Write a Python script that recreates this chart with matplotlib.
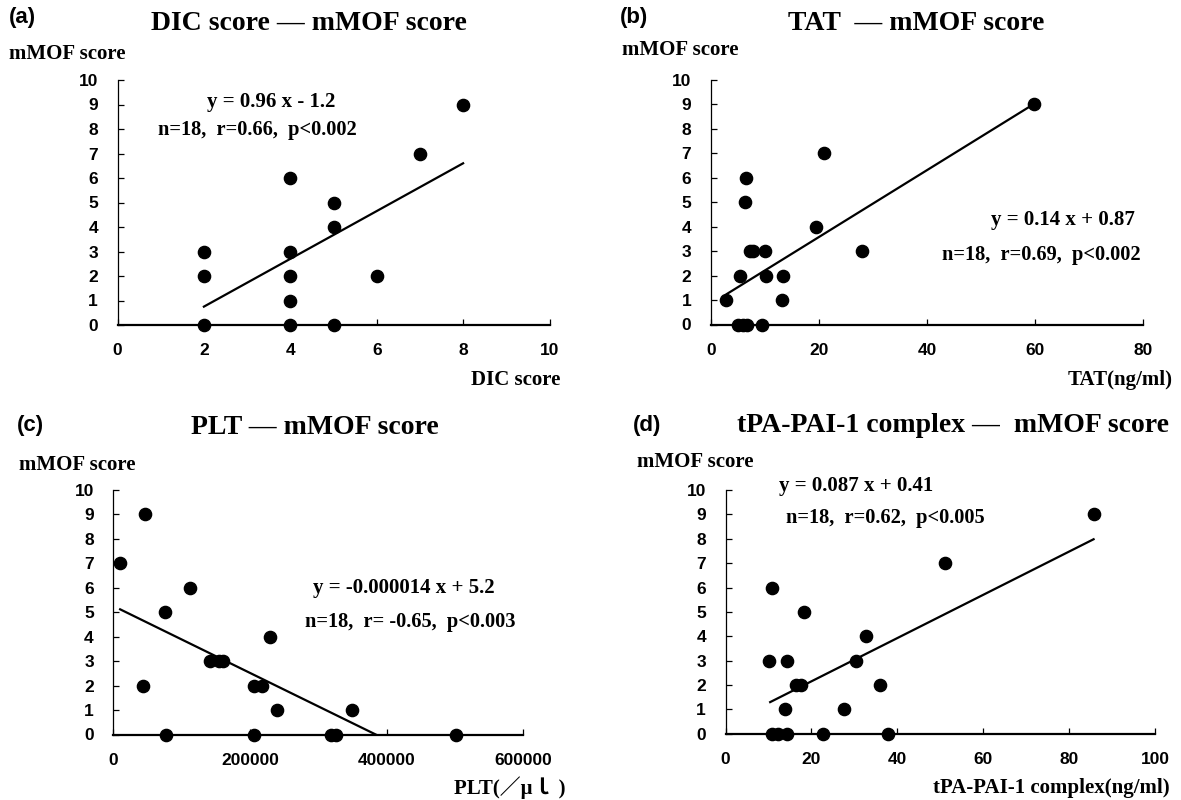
import matplotlib
matplotlib.use("Agg")
import matplotlib.pyplot as plt
from matplotlib import font_manager

# ---------------- data ----------------
# (a) DIC score vs mMOF score
dic_x = [2, 2, 2, 4, 4, 4, 4, 4, 5, 5, 5, 6, 7, 8]
dic_y = [0, 2, 3, 0, 1, 2, 3, 6, 0, 4, 5, 2, 7, 9]
dic_fit_x = [2, 8]
dic_fit_y = [0.75, 6.6]

# (b) TAT vs mMOF score
tat_x = [2.9, 5.4, 6.3, 6.5, 7.3, 7.8, 10.1, 10.2, 13.4, 13.2, 19.4, 20.9, 28.0, 59.8,
         5.0, 5.9, 6.8, 9.5]
tat_y = [1, 2, 5, 6, 3, 3, 3, 2, 2, 1, 4, 7, 3, 9,
         0, 0, 0, 0]
tat_fit_x = [3, 60]
tat_fit_y = [1.25, 9.05]

# (c) PLT vs mMOF score
plt_x = [10000, 45700, 42900, 75400, 77000, 111700, 141500, 154000, 160700, 205300,
         217400, 206400, 229000, 239400, 319300, 326400, 349500, 500900]
plt_y = [7, 9, 2, 5, 0, 6, 3, 3, 3, 2,
         2, 0, 4, 1, 0, 0, 1, 0]
plt_fit_x = [10000, 384000]
plt_fit_y = [5.12, 0.0]

# (d) tPA-PAI-1 complex vs mMOF score
tpa_x = [10.8, 10.1, 14.3, 18.2, 16.4, 17.5, 13.8, 27.6, 30.5, 32.6, 35.9, 51.0, 85.7,
         10.8, 12.2, 14.3, 22.8, 37.9]
tpa_y = [6, 3, 3, 5, 2, 2, 1, 1, 3, 4, 2, 7, 9,
         0, 0, 0, 0, 0]
tpa_fit_x = [10.4, 85.7]
tpa_fit_y = [1.3, 7.98]

y_ticks = list(range(0, 11))
dic_xticks = [0, 2, 4, 6, 8, 10]
tat_xticks = [0, 20, 40, 60, 80]
plt_xticks = [0, 200000, 400000, 600000]
tpa_xticks = [0, 20, 40, 60, 80, 100]

titles = ["DIC score \u2014 mMOF score", "TAT  \u2014 mMOF score",
          "PLT \u2014 mMOF score", "tPA-PAI-1 complex \u2014  mMOF score"]
letters = ["(a)", "(b)", "(c)", "(d)"]
xlabels = ["DIC score", "TAT(ng/ml)", "PLT(\uff0f\u03bc\uff4c )", "tPA-PAI-1 complex(ng/ml)"]
eqs = ["y = 0.96 x - 1.2", "y = 0.14 x + 0.87", "y = -0.000014 x + 5.2", "y = 0.087 x + 0.41"]
stats = ["n=18,  r=0.66,  p<0.002", "n=18,  r=0.69,  p<0.002",
         "n=18,  r= -0.65,  p<0.003", "n=18,  r=0.62,  p<0.005"]

# ---------------- figure ----------------
W, H = 1181, 800
fig = plt.figure(figsize=(W / 100, H / 100), dpi=100)

SERIF = ["Liberation Serif", "Noto Sans CJK JP", "DejaVu Serif"]
SANS = ["Liberation Sans", "DejaVu Sans"]


def has_font(name):
    try:
        font_manager.findfont(font_manager.FontProperties(family=name),
                              fallback_to_default=False)
        return True
    except Exception:
        return False


if has_font("Liberation Sans Narrow"):
    TICKFAM, TICKSIZE = ["Liberation Sans Narrow", "DejaVu Sans"], 13.5
else:
    TICKFAM, TICKSIZE = SANS, 12.5


def px(x, y):
    return x / W, 1 - y / H


def add_axes(x0, x1, y_top, y_bot):
    return fig.add_axes([x0 / W, 1 - y_bot / H, (x1 - x0) / W, (y_bot - y_top) / H])


axes_px = [
    (117.5, 549.5, 80, 325),
    (710.7, 1143.3, 80, 324.5),
    (113.3, 523.3, 490, 734.5),
    (725.5, 1155.0, 490, 733.8),
]
datasets = [
    (dic_x, dic_y, dic_fit_x, dic_fit_y, dic_xticks, (0, 10)),
    (tat_x, tat_y, tat_fit_x, tat_fit_y, tat_xticks, (0, 80)),
    (plt_x, plt_y, plt_fit_x, plt_fit_y, plt_xticks, (0, 600000)),
    (tpa_x, tpa_y, tpa_fit_x, tpa_fit_y, tpa_xticks, (0, 100)),
]

for (x0, x1, yt, yb), (xs, ys, fx, fy, xt, xl) in zip(axes_px, datasets):
    ax = add_axes(x0, x1, yt, yb)
    ax.set_xlim(*xl)
    ax.set_ylim(0, 10)
    for s in ["top", "right"]:
        ax.spines[s].set_visible(False)
    ax.spines["left"].set_linewidth(0.9)
    ax.spines["bottom"].set_linewidth(1.6)
    ax.set_xticks(xt)
    ax.set_yticks(y_ticks)
    ax.set_xticklabels([str(v) for v in xt])
    ax.tick_params(axis="both", direction="in", length=4, width=0.9, colors="black")
    ax.tick_params(axis="x", pad=13)
    ax.tick_params(axis="y", pad=14)
    for lab in ax.get_xticklabels() + ax.get_yticklabels():
        lab.set_fontfamily(TICKFAM)
        lab.set_fontweight("bold")
        lab.set_fontsize(TICKSIZE)
    ax.plot(fx, fy, color="black", lw=1.6, zorder=3, clip_on=False)
    ax.plot(xs, ys, "o", color="black", ms=8.8, zorder=4, clip_on=False)
    ax.patch.set_alpha(0)

# titles
title_pos = [(309, 23), (916, 23), (315, 428), (953, 425)]
for (x, y), t in zip(title_pos, titles):
    fig.text(*px(x, y), t, family=SERIF, weight="bold", fontsize=20, ha="center", va="center")

letter_pos = [(9, 18), (620, 18), (17, 425), (633, 425)]
for (x, y), t in zip(letter_pos, letters):
    fig.text(*px(x, y), t, family=SANS, weight="bold", fontsize=16, ha="left", va="center")

ylab_pos = [(9, 54), (622, 50), (19, 465), (637, 462)]
for (x, y) in ylab_pos:
    fig.text(*px(x, y), "mMOF score", family=SERIF, weight="bold", fontsize=15,
             ha="left", va="center")

xlab_pos = [(560, 380), (1173, 380), (566, 788), (1170, 788)]
for (x, y), t in zip(xlab_pos, xlabels):
    fig.text(*px(x, y), t, family=SERIF, weight="bold", fontsize=15, ha="right", va="center")

eq_pos = [(271, 102), (1063, 220), (404, 588), (856, 486)]
for (x, y), t in zip(eq_pos, eqs):
    fig.text(*px(x, y), t, family=SERIF, weight="bold", fontsize=15, ha="center", va="center")

st_pos = [(257, 130), (1041, 255), (410, 622), (885, 518)]
for (x, y), t in zip(st_pos, stats):
    fig.text(*px(x, y), t, family=SERIF, weight="bold", fontsize=14.7, ha="center", va="center")

fig.savefig("out.png", dpi=100, facecolor="white")
